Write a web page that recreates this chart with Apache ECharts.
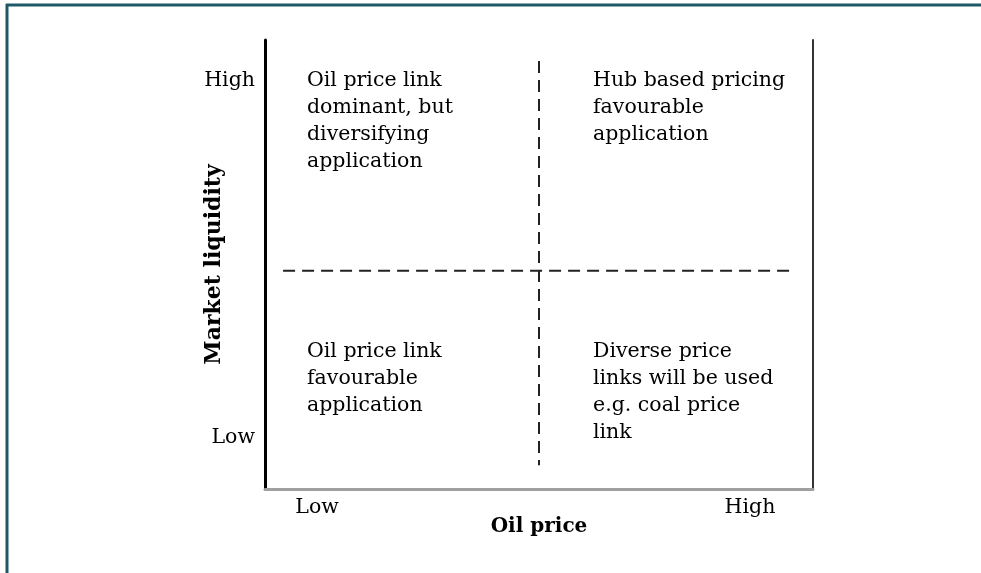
<!DOCTYPE html>
<html>
<head>
<meta charset="utf-8">
<script src="https://cdn.jsdelivr.net/npm/echarts@6/dist/echarts.min.js"></script>
<style>
html,body{margin:0;padding:0;background:#fff;}
#c{width:981px;height:573px;}
</style>
</head>
<body>
<div id="c"></div>
<script>
// ---- data ----
const xTickValues = [9.5, 88.5];
const xTickLabels = ['Low', 'High'];
const yTickValues = [91, 11.5];
const yTickLabels = ['High', 'Low'];
const xAxisName = 'Oil price';
const yAxisName = 'Market liquidity';
const vDivider = [[50, 95.3], [50, 5.3]];
const hDivider = [[3.3, 48.6], [95.8, 48.6]];
const quadrantTexts = [
  'Oil price link\ndominant, but\ndiversifying\napplication',
  'Hub based pricing\nfavourable\napplication',
  'Oil price link\nfavourable\napplication',
  'Diverse price\nlinks will be used\ne.g. coal price\nlink'
];

const chart = echarts.init(document.getElementById('c'), null, {renderer: 'canvas'});
const FONT = 'DejaVu Serif';
function lab(v, values, labels) {
  for (let i = 0; i < values.length; i++) if (Math.abs(values[i] - v) < 1e-6) return labels[i];
  return '';
}
const qText = (t, left, top) => ({
  type: 'text', left: left, top: top,
  style: {text: t, font: '20.5px "' + FONT + '"', fill: '#000', lineHeight: 27}
});

chart.setOption({
  animation: false,
  backgroundColor: '#fff',
  grid: {left: 265, right: 168, top: 40, bottom: 84},
  xAxis: {
    type: 'value', min: 0, max: 100,
    splitLine: {show: false},
    axisTick: {show: false},
    axisLine: {show: true, lineStyle: {color: '#a0a0a0', width: 3}},
    axisLabel: {
      customValues: xTickValues,
      formatter: v => lab(v, xTickValues, xTickLabels),
      fontFamily: FONT, fontSize: 20.5, color: '#000', margin: 8
    },
    name: xAxisName, nameLocation: 'middle', nameGap: 28, nameMoveOverlap: false,
    nameTextStyle: {fontFamily: FONT, fontSize: 20, fontWeight: 'bold', color: '#000'}
  },
  yAxis: [{
    type: 'value', min: 0, max: 100,
    splitLine: {show: false},
    axisTick: {show: false},
    axisLine: {show: true, lineStyle: {color: '#000', width: 3}},
    axisLabel: {
      customValues: yTickValues,
      formatter: v => lab(v, yTickValues, yTickLabels),
      fontFamily: FONT, fontSize: 20.5, color: '#000', margin: 10
    },
    name: yAxisName, nameLocation: 'middle', nameGap: 40, nameRotate: 90, nameMoveOverlap: false,
    nameTextStyle: {fontFamily: FONT, fontSize: 22, fontWeight: 'bold', color: '#000'}
  }, {
    type: 'value', min: 0, max: 100, position: 'right',
    splitLine: {show: false}, axisTick: {show: false}, axisLabel: {show: false},
    axisLine: {show: true, lineStyle: {color: '#333', width: 2}}
  }],
  series: [
    {type: 'line', data: vDivider, symbol: 'none', silent: true,
     lineStyle: {color: '#222', width: 2, type: [12, 7]}},
    {type: 'line', data: hDivider, symbol: 'none', silent: true,
     lineStyle: {color: '#222', width: 2, type: [12, 7]}}
  ],
  graphic: [
    {type: 'line', shape: {x1: 7, y1: 4, x2: 7, y2: 573}, style: {stroke: '#215868', lineWidth: 3}},
    {type: 'line', shape: {x1: 6, y1: 5, x2: 981, y2: 5}, style: {stroke: '#215868', lineWidth: 3}},
    qText(quadrantTexts[0], 307, 67),
    qText(quadrantTexts[1], 593, 67),
    qText(quadrantTexts[2], 307, 338),
    qText(quadrantTexts[3], 593, 338)
  ]
});
</script>
</body>
</html>
